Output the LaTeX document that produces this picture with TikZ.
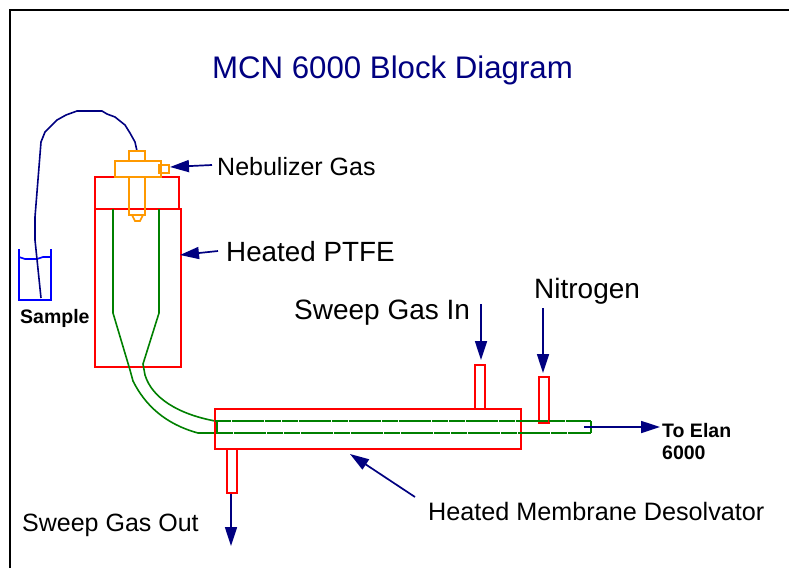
\documentclass[tikz,border=0pt]{standalone}
\usepackage{fontspec}
\setmainfont{Liberation Sans}
\usetikzlibrary{arrows.meta}
\definecolor{navy}{HTML}{000080}
\definecolor{tubegreen}{HTML}{008000}
\definecolor{nebulorange}{HTML}{FF9900}
\tikzset{
redbox/.style={draw=red, line width=1.7pt},
orbox/.style={draw=nebulorange, line width=1.7pt},
tube/.style={draw=tubegreen, line width=1.6pt},
tubedash/.style={tube, dash pattern=on 16pt off 0.7pt},
beaker/.style={draw=blue, line width=1.6pt},
gasarrow/.style={draw=navy, line width=1.7pt, -{Triangle[length=19pt,width=12pt]}},
lbl/.style={anchor=west, inner sep=0pt, text=black, font=\fontsize{#1}{#1}\selectfont},
boldlbl/.style={anchor=west, inner sep=0pt, text=black, font=\bfseries\fontsize{19.5}{20}\selectfont},
}
\begin{document}
\begin{tikzpicture}[x=1pt,y=-1pt]
\useasboundingbox (0,0) rectangle (789,568);
\draw[line width=2pt] (10,568) -- (10,10) -- (789,10);
\node[lbl=31.2, text=navy] (title) at (212,70){MCN 6000 Block Diagram};
% sample beaker
\draw[beaker] (19,249) -- (19,300) -- (51,300) -- (51,249);
\draw[beaker] (19,257) -- (25,259) -- (37,259) -- (43,257) -- (51,257);
\coordinate (tip) at (41,298);
\coordinate (top) at (137,151);
\draw[draw=navy, line width=1.6pt] (tip) -- (35,240) -- (35,217) -- (41,142) -- (45,132) -- (57,120) -- (66,115) -- (77,111) -- (102,111) -- (107,114) -- (115,117) -- (125,125) -- (130,133) -- (135,142) -- (top);
\node[boldlbl] (sample) at (20,318){Sample};
% heated block
\draw[redbox] (95,209) rectangle (181,367);
\draw[redbox] (95,177) rectangle (179,209);
% nebulizer
\draw[orbox] (115,161) rectangle (161,177);
\draw[orbox] (129,151) rectangle (145,161);
\draw[orbox] (129,177) rectangle (145,215);
\draw[orbox] (159,165) rectangle (169,173);
\draw[orbox] (132,215) -- (135,221) -- (140,221) -- (143,215);
% inner tube
\draw[tube] (113,209) -- (113,313) -- (130,370) -- (133,381) .. controls (145,405) and (165,424) .. (198,433) -- (217,433);
\draw[tube] (159,209) -- (159,313) -- (143,364) -- (145,375) .. controls (152,398) and (178,414) .. (215,421);
% membrane
\draw[redbox] (215,409) rectangle (521,449);
\draw[redbox] (227,449) rectangle (237,493);
\draw[redbox] (475,365) rectangle (485,409);
\draw[redbox] (539,377) rectangle (549,423);
\draw[tubedash] (215,421) -- (591,421);
\draw[tubedash] (217,433) -- (591,433);
\draw[tube] (217,421) -- (217,433);
\draw[tube] (591,421) -- (591,433);
% labels
\node[lbl=25] (nebgas) at (217,167){Nebulizer Gas};
\node[lbl=27.8] (ptfe) at (226,252){Heated PTFE};
\node[lbl=28] (sweepin) at (294,313){Sweep Gas In};
\node[lbl=28] (nitrogen) at (534,291){Nitrogen};
\node[lbl=25] (sweepout) at (22,525){Sweep Gas Out};
\node[lbl=25.2] (membrane) at (428,511){Heated Membrane Desolvator};
\node[boldlbl] (elan) at (662,431){To Elan};
\node[boldlbl] (elanb) at (662,453){6000};
% gas arrows
\coordinate (a1) at (212,165);
\coordinate (a2) at (170,167);
\coordinate (b1) at (218,251);
\coordinate (b2) at (180,255);
\coordinate (c1) at (481,304);
\coordinate (c2) at (481,360);
\coordinate (d1) at (543,308);
\coordinate (d2) at (543,373);
\coordinate (e1) at (231,494);
\coordinate (e2) at (231,546);
\coordinate (f1) at (584,427);
\coordinate (f2) at (660,427);
\coordinate (g1) at (415,497);
\coordinate (g2) at (350,454);
\draw[gasarrow] (a1) -- (a2);
\draw[gasarrow] (b1) -- (b2);
\draw[gasarrow] (c1) -- (c2);
\draw[gasarrow] (d1) -- (d2);
\draw[gasarrow] (e1) -- (e2);
\draw[gasarrow] (f1) -- (f2);
\draw[gasarrow] (g1) -- (g2);
\end{tikzpicture}
\end{document}
